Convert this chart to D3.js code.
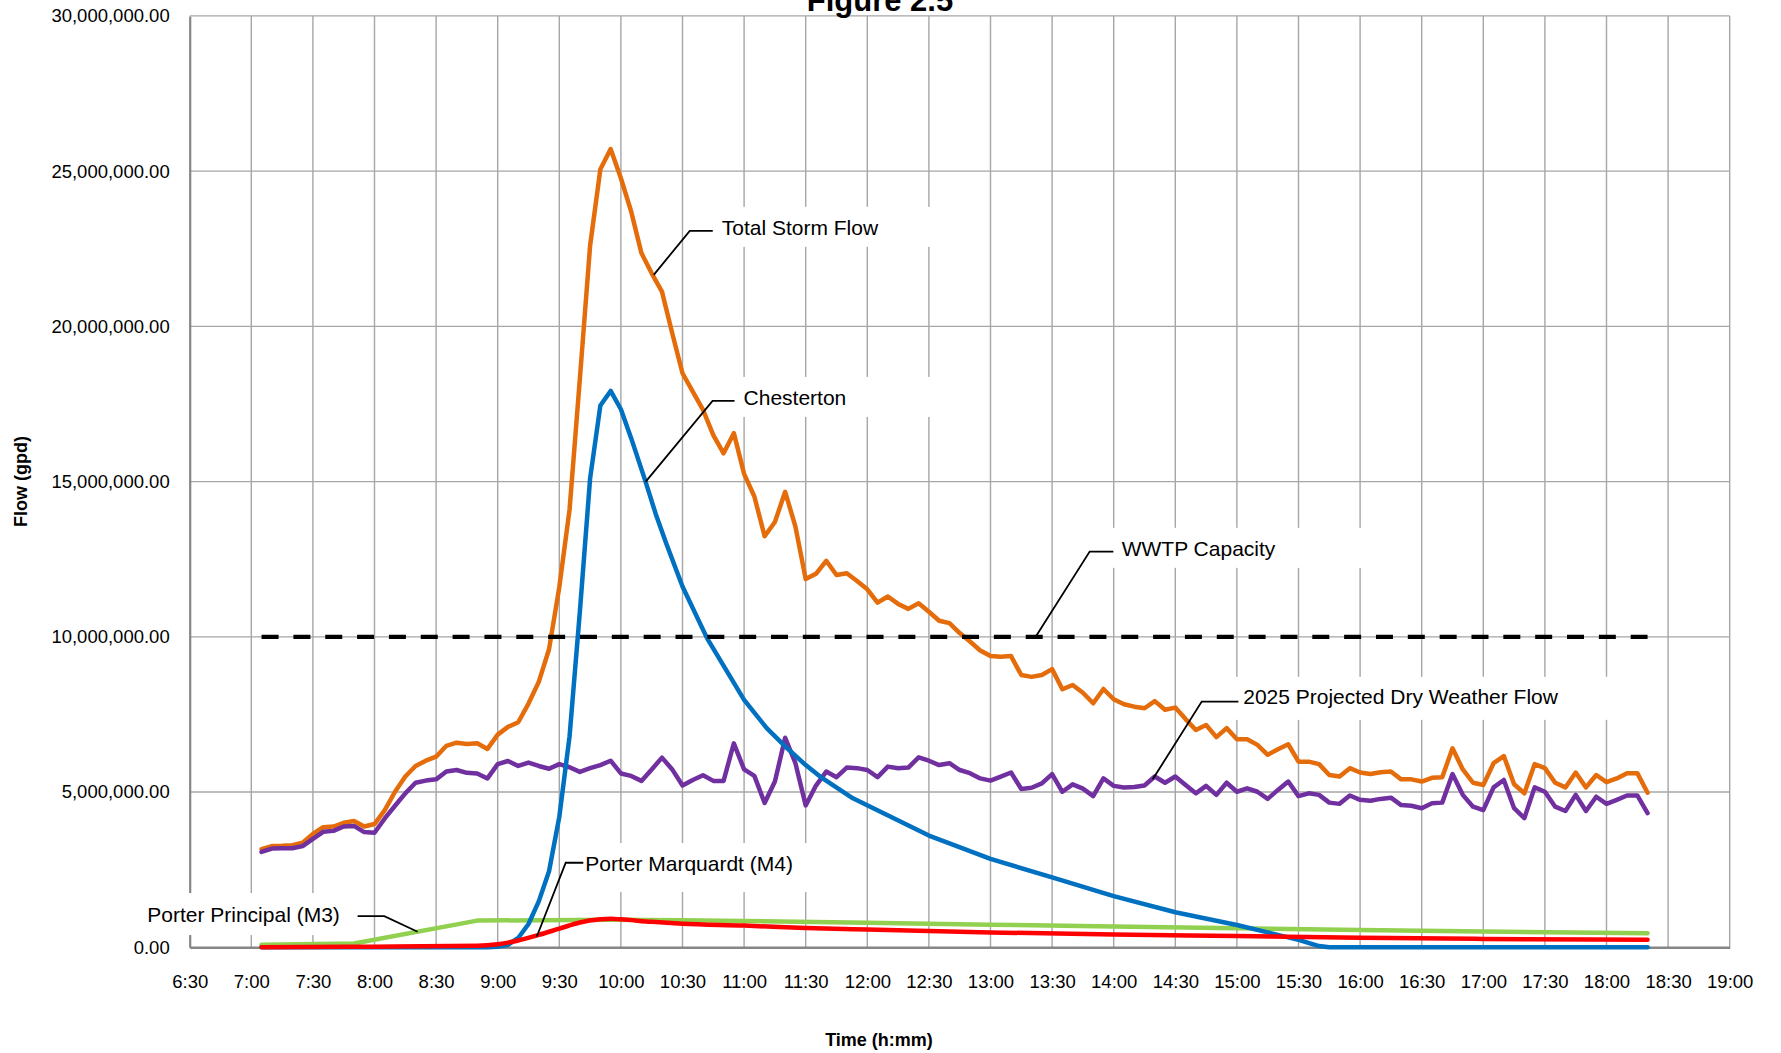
<!DOCTYPE html>
<html>
<head>
<meta charset="utf-8">
<script src="https://cdn.jsdelivr.net/npm/d3@7"></script>
<style>
  html, body { margin: 0; padding: 0; background: #ffffff; }
  svg { display: block; }
</style>
</head>
<body>
<svg id="chart" width="1781" height="1053"></svg>
<script>
// ---------------- DATA ----------------
const chartTitle = "Figure 2.5";
const xAxisTitle = "Time (h:mm)";
const yAxisTitle = "Flow (gpd)";

const xTickLabels = ["6:30","7:00","7:30","8:00","8:30","9:00","9:30","10:00","10:30","11:00","11:30","12:00","12:30",
  "13:00","13:30","14:00","14:30","15:00","15:30","16:00","16:30","17:00","17:30","18:00","18:30","19:00"];
const yTickValues = [0, 5000000, 10000000, 15000000, 20000000, 25000000, 30000000];

// 5-minute samples starting 7:05 (values in million gallons per day)
const sampleStart = "7:05";
const sampleStepMinutes = 5;

const totalStormFlow = [
  3.16, 3.26, 3.27, 3.29, 3.37, 3.65, 3.87, 3.89, 4.01, 4.07, 3.89, 3.97, 4.42, 5.01, 5.50, 5.84, 6.01, 6.14, 6.49, 6.59, 6.55, 6.57, 6.39,
  6.85, 7.10, 7.25, 7.85, 8.55, 9.60, 11.60, 14.10, 18.30, 22.60,
  25.06, 25.71, 24.77, 23.70, 22.36, 21.71, 21.12, 19.78, 18.49, 17.90, 17.31,
  16.50, 15.91, 16.56, 15.25, 14.52, 13.24, 13.70, 14.67, 13.55, 11.86, 12.03, 12.45, 11.99, 12.05, 11.80, 11.53, 11.10, 11.30, 11.06,
  10.90, 11.08, 10.81, 10.52, 10.44, 10.12, 9.85, 9.56, 9.38, 9.36, 9.38, 8.77, 8.71, 8.77, 8.96,
  8.31, 8.45, 8.20, 7.86, 8.32, 7.99, 7.83, 7.75, 7.70, 7.93, 7.65, 7.72, 7.35, 7.00, 7.16, 6.77, 7.06, 6.70, 6.70, 6.52,
  6.20, 6.38, 6.54, 5.98, 5.98, 5.90, 5.55, 5.50, 5.77, 5.63, 5.58, 5.64, 5.66, 5.41, 5.41, 5.34, 5.46, 5.48, 6.41, 5.73,
  5.30, 5.23, 5.93, 6.16, 5.25, 4.96, 5.90, 5.77, 5.30, 5.15, 5.63, 5.15, 5.55, 5.32, 5.44, 5.61, 5.61, 4.98
];

const dryWeatherFlow2025 = [
  3.07, 3.18, 3.19, 3.19, 3.26, 3.49, 3.72, 3.75, 3.89, 3.91, 3.71, 3.69, 4.15, 4.56, 4.96, 5.30, 5.37, 5.41, 5.66, 5.71, 5.62, 5.60, 5.44,
  5.90, 6.00, 5.84, 5.95, 5.84, 5.75, 5.90, 5.80, 5.65, 5.77,
  5.87, 6.01, 5.60, 5.52, 5.36, 5.73, 6.11, 5.73, 5.21, 5.39, 5.54, 5.36, 5.36, 6.57, 5.73, 5.52, 4.65, 5.34, 6.75, 5.93,
  4.57, 5.21, 5.66, 5.48, 5.79, 5.77, 5.71, 5.48, 5.82, 5.77, 5.79, 6.12, 6.01, 5.87, 5.93, 5.71, 5.61, 5.44, 5.37, 5.50,
  5.63, 5.10, 5.14, 5.28, 5.58,
  5.01, 5.25, 5.11, 4.87, 5.44, 5.20, 5.15, 5.16, 5.21, 5.50, 5.30, 5.50, 5.23, 4.96, 5.20, 4.91, 5.30, 5.01, 5.12, 5.01,
  4.78, 5.07, 5.34, 4.87, 4.96, 4.91, 4.66, 4.62, 4.89, 4.75, 4.72, 4.78, 4.82, 4.58, 4.56, 4.48, 4.64, 4.66, 5.58, 4.91,
  4.53, 4.42, 5.15, 5.39, 4.48, 4.16, 5.15, 5.01, 4.53, 4.39, 4.91, 4.39, 4.85, 4.62, 4.75, 4.89, 4.89, 4.32
];

const chestertonTimes = ["7:05","8:55","9:00","9:05","9:10","9:15","9:20","9:25","9:30","9:35","9:40","9:45","9:50","9:55",
  "10:00","10:05","10:12","10:17","10:22","10:30","10:42","11:00","11:11","11:21","11:30","11:37","11:53",
  "12:30","13:00","13:30","14:00","14:30","15:00","15:15","15:30","15:40","15:45","18:20"];
const chesterton = [0, 0, 0.02, 0.08, 0.30, 0.75, 1.48, 2.45, 4.20, 6.80, 10.80, 15.10, 17.45, 17.92,
  17.33, 16.40, 15.00, 13.95, 13.02, 11.62, 9.95, 7.97, 7.06, 6.41, 5.87, 5.50, 4.80,
  3.60, 2.85, 2.25, 1.65, 1.13, 0.72, 0.48, 0.24, 0.04, 0, 0];

const porterPrincipalTimes = ["7:05","7:50","8:50","9:55","10:30","11:00","12:00","13:00","14:00","15:00","16:00","17:00","18:20"];
const porterPrincipal = [0.08, 0.12, 0.86, 0.89, 0.87, 0.85, 0.79, 0.73, 0.67, 0.61, 0.56, 0.51, 0.45];

const porterMarquardtTimes = ["7:05","8:00","8:50","9:00","9:10","9:20","9:30","9:40","9:50","9:55","10:00","10:15","10:30",
  "11:00","11:30","12:00","13:00","14:00","15:00","16:00","17:00","18:20"];
const porterMarquardt = [0.0, 0.02, 0.05, 0.10, 0.22, 0.40, 0.60, 0.80, 0.90, 0.92, 0.90, 0.82, 0.76,
  0.70, 0.62, 0.57, 0.48, 0.41, 0.36, 0.31, 0.27, 0.24];

const wwtpCapacityTimes = ["7:05", "18:20"];
const wwtpCapacity = [10, 10];

const seriesUnit = 1000000; // values above are in millions of gpd

const calloutLabels = ["Total Storm Flow", "Chesterton", "WWTP Capacity", "2025 Projected Dry Weather Flow",
  "Porter Marquardt (M4)", "Porter Principal (M3)"];
const calloutAnchorTimes = ["10:16", "10:12", "13:22", "14:19", "9:19", "8:21"];
const calloutAnchorValues = [21.66, 14.99, 10.0, 5.41, 0.34, 0.50];

// ---------------- HELPERS ----------------
const toMin = s => { const [h, m] = s.split(":").map(Number); return h * 60 + m; };
const fmtTime = m => Math.floor(m / 60) + ":" + String(m % 60).padStart(2, "0");
const startMin = toMin(sampleStart);
const sampleTimes = d3.range(totalStormFlow.length).map(i => startMin + i * sampleStepMinutes);

// ---------------- LAYOUT ----------------
const svg = d3.select("#chart");
const plot = { left: 189.7, right: 1729.7, top: 15.9, bottom: 947.3 };
const xTickMinutes = xTickLabels.map(toMin);

const x = d3.scaleLinear().domain([xTickMinutes[0], xTickMinutes[xTickMinutes.length - 1]]).range([plot.left, plot.right]);
const y = d3.scaleLinear().domain([0, 30000000]).range([plot.bottom, plot.top]);

const tickFont = "'Liberation Sans', Arial, sans-serif";

// gridlines
const grid = svg.append("g").attr("class", "grid");
grid.selectAll("line.v").data(xTickMinutes.slice(1)).enter().append("line")
  .attr("x1", d => x(d)).attr("x2", d => x(d))
  .attr("y1", plot.top).attr("y2", plot.bottom)
  .attr("stroke", "#a6a6a6").attr("stroke-width", 1.4);
grid.selectAll("line.h").data(yTickValues.slice(1)).enter().append("line")
  .attr("x1", plot.left).attr("x2", plot.right)
  .attr("y1", d => y(d)).attr("y2", d => y(d))
  .attr("stroke", "#a6a6a6").attr("stroke-width", 1.4);

// axes
const xAxis = d3.axisBottom(x).tickValues(xTickMinutes).tickFormat(fmtTime).tickSize(0).tickPadding(28);
const gx = svg.append("g").attr("transform", `translate(0,${plot.bottom})`).call(xAxis);
gx.select(".domain").attr("stroke", "#868686").attr("stroke-width", 2.4);
gx.selectAll("text").attr("font-family", tickFont).attr("font-size", 18.5).attr("fill", "#000");

const yAxis = d3.axisLeft(y).tickValues(yTickValues).tickFormat(d3.format(",.2f")).tickSize(0).tickPadding(20);
const gy = svg.append("g").attr("transform", `translate(${plot.left},0)`).call(yAxis);
gy.select(".domain").attr("stroke", "#868686").attr("stroke-width", 2.2);
gy.selectAll("text").attr("font-family", tickFont).attr("font-size", 18.5).attr("fill", "#000");

// titles
svg.append("text").attr("x", 880).attr("y", 10.5).attr("text-anchor", "middle")
  .attr("font-family", tickFont).attr("font-weight", "bold").attr("font-size", 31).text(chartTitle);
svg.append("text").attr("x", 879).attr("y", 1046).attr("text-anchor", "middle")
  .attr("font-family", tickFont).attr("font-weight", "bold").attr("font-size", 18).text(xAxisTitle);
svg.append("text").attr("transform", "translate(26.5,481.5) rotate(-90)").attr("text-anchor", "middle")
  .attr("font-family", tickFont).attr("font-weight", "bold").attr("font-size", 18).text(yAxisTitle);

// callout layout (pixel offsets from anchor point)
const calloutLayout = [
  { elbow: [36, -44], hEnd: [59, -44], text: [68, -40], anchor: "start", box: [60, -68, 248, 40] },
  { elbow: [67, -81], hEnd: [89, -81], text: [98, -76.5], anchor: "start", box: [91, -105, 226, 40] },
  { elbow: [54, -85.3], hEnd: [77.7, -85.3], text: [86, -81], anchor: "start", box: [73, -109, 282, 40] },
  { elbow: [49, -77.8], hEnd: [85.7, -77.8], text: [90.5, -75.2], anchor: "start", box: [81, -102.5, 407, 43] },
  { elbow: [29, -74], hEnd: [46.6, -74], text: [48.5, -65.7], anchor: "start", box: [41, -93.7, 267, 49] },
  { elbow: [-33.3, -15.7], hEnd: [-60, -15.7], text: [-77.8, -9.7], anchor: "end", box: [-278, -38.7, 215, 42] }
];
const callouts = calloutLabels.map((label, i) => ({
  label, ax: x(toMin(calloutAnchorTimes[i])), ay: y(calloutAnchorValues[i] * seriesUnit), ...calloutLayout[i]
}));

// white label boxes (cover gridlines)
svg.append("g").selectAll("rect").data(callouts).enter().append("rect")
  .attr("x", d => d.ax + d.box[0]).attr("y", d => d.ay + d.box[1])
  .attr("width", d => d.box[2]).attr("height", d => d.box[3])
  .attr("fill", "#ffffff");

// series
const lineLinear = d3.line().x(d => x(d.t)).y(d => y(d.v * seriesUnit));
const lineSmooth = d3.line().x(d => x(d.t)).y(d => y(d.v * seriesUnit)).curve(d3.curveMonotoneX);
const zipSamples = arr => arr.map((v, i) => ({ t: sampleTimes[i], v }));
const zipTimes = (times, arr) => arr.map((v, i) => ({ t: toMin(times[i]), v }));

const seriesList = [
  { data: zipSamples(totalStormFlow), color: "#e46c0a", gen: lineLinear },
  { data: zipSamples(dryWeatherFlow2025), color: "#7030a0", gen: lineLinear },
  { data: zipTimes(porterPrincipalTimes, porterPrincipal), color: "#92d050", gen: lineLinear },
  { data: zipTimes(chestertonTimes, chesterton), color: "#0070c0", gen: lineLinear },
  { data: zipTimes(porterMarquardtTimes, porterMarquardt), color: "#ff0000", gen: lineSmooth }
];
svg.append("g").selectAll("path").data(seriesList).enter().append("path")
  .attr("d", d => d.gen(d.data))
  .attr("fill", "none").attr("stroke", d => d.color).attr("stroke-width", 4.5)
  .attr("stroke-linejoin", "round").attr("stroke-linecap", "round");

// WWTP capacity dashed
svg.append("path")
  .attr("d", lineLinear(zipTimes(wwtpCapacityTimes, wwtpCapacity)))
  .attr("fill", "none").attr("stroke", "#000").attr("stroke-width", 4.4)
  .attr("stroke-dasharray", "17 14.84");

// leader lines and labels
const cg = svg.append("g");
cg.selectAll("polyline").data(callouts).enter().append("polyline")
  .attr("points", d => [[d.ax, d.ay], [d.ax + d.elbow[0], d.ay + d.elbow[1]], [d.ax + d.hEnd[0], d.ay + d.hEnd[1]]].map(p => p.join(",")).join(" "))
  .attr("fill", "none").attr("stroke", "#000").attr("stroke-width", 1.8);
cg.selectAll("text").data(callouts).enter().append("text")
  .attr("x", d => d.ax + d.text[0]).attr("y", d => d.ay + d.text[1])
  .attr("text-anchor", d => d.anchor)
  .attr("font-family", tickFont).attr("font-size", 21).attr("fill", "#000")
  .text(d => d.label);
</script>
</body>
</html>
